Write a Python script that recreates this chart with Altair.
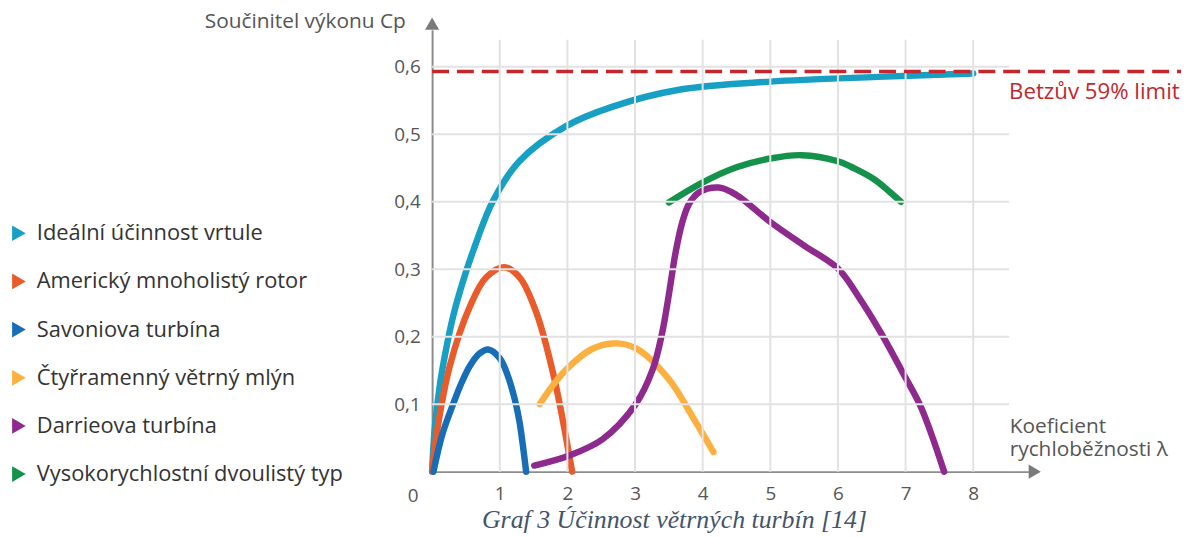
import altair as alt
import pandas as pd

# ---------------- data ----------------
series_names = ["Ideální účinnost vrtule", "Americký mnoholistý rotor", "Savoniova turbína",
                "Čtyřramenný větrný mlýn", "Darrieova turbína", "Vysokorychlostní dvoulistý typ"]
series_colors = ["#179fc4", "#e95b2b", "#176db6", "#fbb03f", "#8e2a8e", "#14914a"]

ideal_x = [0, 0.04, 0.12, 0.2, 0.31, 0.45, 0.61, 0.9, 1.29, 1.98, 2.67, 3.65, 5.0, 6.59, 8.0]
ideal_y = [0, 0.065, 0.132, 0.178, 0.23, 0.28, 0.328, 0.401, 0.46, 0.512, 0.541, 0.566, 0.578, 0.585, 0.590]

american_x = [0, 0.07, 0.26, 0.56, 0.8, 1.07, 1.3, 1.54, 1.8, 2.07]
american_y = [0, 0.058, 0.156, 0.245, 0.288, 0.303, 0.287, 0.236, 0.141, 0]

savonius_x = [0.02, 0.15, 0.31, 0.45, 0.56, 0.7, 0.83, 1.0, 1.12, 1.22, 1.29, 1.39]
savonius_y = [0, 0.055, 0.1, 0.135, 0.157, 0.175, 0.181, 0.168, 0.142, 0.108, 0.075, 0]

windmill_x = [1.59, 1.8, 2.03, 2.35, 2.67, 3.01, 3.5, 3.84, 4.16]
windmill_y = [0.1, 0.13, 0.156, 0.181, 0.19, 0.183, 0.137, 0.083, 0.029]

darrieus_x = [1.51, 2.03, 2.52, 3.01, 3.26, 3.4, 3.5, 3.6, 3.7, 3.8, 3.95, 4.24, 4.5,
              5.0, 5.5, 6.0, 6.3, 6.64, 7.0, 7.23, 7.57]
darrieus_y = [0.009, 0.024, 0.048, 0.1, 0.151, 0.205, 0.262, 0.325, 0.37, 0.397, 0.414, 0.421, 0.41,
              0.37, 0.335, 0.301, 0.26, 0.205, 0.139, 0.095, 0]

highspeed_x = [3.5, 3.99, 4.5, 5.0, 5.46, 6.0, 6.25, 6.54, 6.75, 6.93]
highspeed_y = [0.399, 0.428, 0.451, 0.464, 0.469, 0.46, 0.449, 0.433, 0.416, 0.40]

x_ticks = [1, 2, 3, 4, 5, 6, 7, 8]
y_ticks = [0.1, 0.2, 0.3, 0.4, 0.5, 0.6]

betz_value = 0.593
betz_label = "Betzův 59% limit"
caption = "Graf 3 Účinnost větrných turbín [14]"
y_title = "Součinitel výkonu Cp"
x_title = ["Koeficient", "rychloběžnosti λ"]

# ---------------- layout constants ----------------
X_MAX = 8.84
Y_MAX = 0.655
GRID_TOP = 0.64
GRID_RIGHT = 8.53
BETZ_END = 11.1
FONT = "Open Sans"
GRAY = "#555555"

rows = []
all_x = [ideal_x, american_x, savonius_x, windmill_x, darrieus_x, highspeed_x]
all_y = [ideal_y, american_y, savonius_y, windmill_y, darrieus_y, highspeed_y]
for name, col, xs, ys in zip(series_names, series_colors, all_x, all_y):
    for i, (xv, yv) in enumerate(zip(xs, ys)):
        rows.append({"series": name, "hex": col, "x": xv, "y": yv, "order": i})
df = pd.DataFrame(rows)

xscale = alt.Scale(domain=[0, X_MAX], nice=False, zero=False)
yscale = alt.Scale(domain=[0, Y_MAX], nice=False, zero=False)
color_scale = alt.Scale(domain=series_names, range=series_colors)

x_axis = alt.Axis(
    values=x_ticks, format="d", grid=False, ticks=False, domainColor="#8c8c8c", domainWidth=2,
    labelFont=FONT, labelFontSize=19, labelColor=GRAY, labelPadding=13,
    title=x_title, titleFont=FONT, titleFontSize=21, titleFontWeight="normal", titleColor=GRAY,
    titleAlign="left", titleBaseline="top", titleX=581, titleY=-56, titleLineHeight=23,
)
y_axis = alt.Axis(
    values=y_ticks, labelExpr="replace(format(datum.value, '.1f'), '.', ',')",
    grid=False, ticks=False, domainColor="#8c8c8c", domainWidth=2,
    labelFont=FONT, labelFontSize=19, labelColor=GRAY, labelPadding=12,
    title=y_title, titleFont=FONT, titleFontSize=21, titleFontWeight="normal", titleColor=GRAY,
    titleAngle=0, titleAlign="right", titleBaseline="middle", titleX=-27, titleY=-8,
)

# main lines (carry the axes); stroke colour taken directly, legend comes from the point layer
lines = alt.Chart(df).mark_line(strokeWidth=6.5, interpolate="catmull-rom", strokeCap="round").encode(
    x=alt.X("x:Q", scale=xscale, axis=x_axis),
    y=alt.Y("y:Q", scale=yscale, axis=y_axis),
    stroke=alt.Stroke("hex:N", scale=None),
    detail="series:N",
    order=alt.Order("order:Q"),
)

# grid
vgrid_df = pd.DataFrame({"x": x_ticks, "y0": [0] * len(x_ticks), "y1": [GRID_TOP] * len(x_ticks)})
hgrid_df = pd.DataFrame({"y": y_ticks, "x0": [0] * len(y_ticks), "x1": [GRID_RIGHT] * len(y_ticks)})

vgrid = alt.Chart(vgrid_df).mark_rule(color="#e2e2e2", strokeWidth=2).encode(
    x=alt.X("x:Q", scale=xscale),
    y=alt.Y("y0:Q", scale=yscale),
    y2="y1:Q",
)
hgrid = alt.Chart(hgrid_df).mark_rule(color="#e2e2e2", strokeWidth=2).encode(
    y=alt.Y("y:Q", scale=yscale),
    x=alt.X("x0:Q", scale=xscale),
    x2="x1:Q",
)

betz_df = pd.DataFrame({"x0": [0], "x1": [BETZ_END], "y": [betz_value], "lx": [GRID_RIGHT], "label": [betz_label]})
betz = alt.Chart(betz_df).mark_rule(color="#c1272d", strokeWidth=3.5, strokeDash=[17, 8]).encode(
    x=alt.X("x0:Q", scale=xscale),
    x2="x1:Q",
    y=alt.Y("y:Q", scale=yscale),
)
betz_text = alt.Chart(betz_df).mark_text(
    align="left", baseline="middle", dy=21, font=FONT, fontSize=22.4, color="#c1272d"
).encode(
    x=alt.X("lx:Q", scale=xscale),
    y=alt.Y("y:Q", scale=yscale),
    text="label:N",
)

legend_pts = alt.Chart(df).mark_point(filled=True, shape="triangle-right", size=0).encode(
    x=alt.X("x:Q", scale=xscale),
    y=alt.Y("y:Q", scale=yscale),
    color=alt.Color("series:N", scale=color_scale, legend=alt.Legend(
        orient="none", legendX=-427, legendY=194, title=None, direction="vertical",
        symbolType="triangle-right", symbolSize=250, symbolStrokeWidth=0, symbolOpacity=1,
        labelFont=FONT, labelFontSize=22, labelColor="#333333", rowPadding=26.5, labelOffset=7,
        padding=0, labelLimit=400,
    )),
)

arrow_df = pd.DataFrame({"x": [8.91, 0], "y": [0, 0.664], "shape": ["triangle-right", "triangle-up"]})
arrows = alt.Chart(arrow_df).mark_point(filled=True, size=200, color="#7a7a7a", opacity=1).encode(
    x=alt.X("x:Q", scale=xscale),
    y=alt.Y("y:Q", scale=yscale),
    shape=alt.Shape("shape:N", scale=None),
)

origin_df = pd.DataFrame({"x": [0], "y": [0], "t": ["0"]})
origin = alt.Chart(origin_df).mark_text(
    font=FONT, fontSize=19, color=GRAY, dx=-19, dy=25, baseline="middle", align="center"
).encode(
    x=alt.X("x:Q", scale=xscale),
    y=alt.Y("y:Q", scale=yscale),
    text="t:N",
)

chart = alt.layer(lines, vgrid, hgrid, betz, legend_pts, betz_text, arrows, origin).properties(
    width=602,
    height=445,
    autosize=alt.AutoSizeParams(type="none"),
    padding={"left": 427, "top": 20, "right": 152, "bottom": 62},
    background="white",
    title=alt.TitleParams(
        text=caption, orient="bottom", anchor="middle", dx=-57, offset=1,
        font="Liberation Serif", fontStyle="italic", fontWeight="normal", fontSize=26, color="#44546a",
    ),
).configure_view(stroke=None)

chart.save("out.html", embed_options={"renderer": "svg", "actions": False})
